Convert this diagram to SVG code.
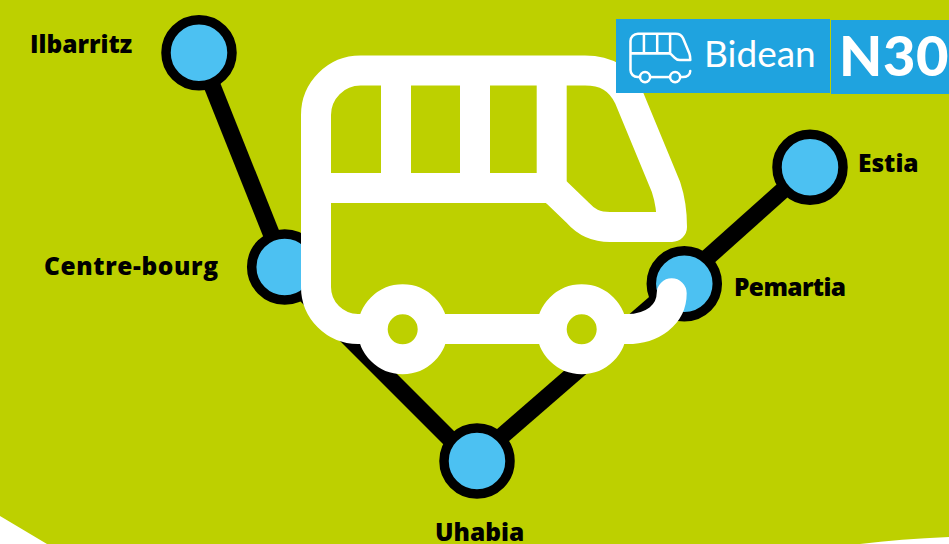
<svg xmlns="http://www.w3.org/2000/svg" width="949" height="544" viewBox="0 0 949 544">
<style>
.lbl{font-family:"Open Sans","Noto Sans",sans-serif;font-weight:800;font-size:24.5px;fill:#000}
.st{fill:#4cc1f2;stroke:#000;stroke-width:9.500}
.ln{stroke:#000;stroke-width:17;fill:none}
.bus{fill:none;stroke:#fff;stroke-linejoin:round}
</style>
<defs>
<g id="busShape">
<path stroke-linecap="round" d="M316 287V115A44.500 44.500 0 0 1 360.500 70.500H585C605 70.500 620 78 629 97.500L666 187Q672 205 672 227H610C595 227 586 222 578 213L556.700 192.500Q552 188 546 188H316M396 70.500V188M475 70.500V188M551.700 70.500V188L556.700 192.500M316 287A42 42 0 0 0 358 329H372"/>
<path d="M433 329H551.500"/>
<path stroke-linecap="round" d="M612 329H627C652 329 671.700 315 671.700 293.300"/>
<circle cx="402.700" cy="329.300" r="30"/>
<circle cx="581.700" cy="329.300" r="30"/>
</g>
</defs>
<rect width="949" height="544" fill="#bdd000"/>
<path d="M0 516L47 544H0ZM860 544Q900 539 949 537V544Z" fill="#fff"/>
<g id="connectors">
<line class="ln" x1="199" y1="52.700" x2="284.500" y2="267"/>
<line class="ln" x1="277" y1="266" x2="472" y2="461"/>
<line class="ln" x1="477" y1="457.700" x2="684" y2="278"/>
<line class="ln" x1="684" y1="278.600" x2="810" y2="166"/>
</g>
<g id="node-ilbarritz"><circle class="st" cx="199" cy="52.700" r="33"/><text class="lbl" x="30" y="53">Ilbarritz</text></g>
<g id="node-centre-bourg"><circle class="st" cx="284.700" cy="267" r="33"/><text class="lbl" x="44" y="275" textLength="174">Centre-bourg</text></g>
<g id="node-uhabia"><circle class="st" cx="477" cy="461" r="33"/><text class="lbl" x="435" y="540.500">Uhabia</text></g>
<g id="node-pemartia"><circle class="st" cx="684.300" cy="283.700" r="33"/><text class="lbl" x="734" y="296" textLength="112">Pemartia</text></g>
<g id="node-estia"><circle class="st" cx="810" cy="167.300" r="33"/><text class="lbl" x="858" y="172">Estia</text></g>
<g id="bus-large"><use href="#busShape" class="bus" stroke-width="30"/></g>
<g id="badge-bidean">
<rect x="616" y="19" width="214" height="74" fill="#1fa3df"/>
<use href="#busShape" class="bus" stroke-width="15" transform="translate(577.400 21.800) scale(.168)"/>
<text x="704" y="67" style="font-family:Lato,sans-serif;font-weight:400;font-size:37px;fill:#fff">Bidean</text>
</g>
<g id="badge-n30">
<rect x="831" y="20" width="118" height="74" fill="#1fa3df"/>
<text x="839" y="76" style="font-family:Lato,sans-serif;font-weight:900;font-size:56px;letter-spacing:.6px;fill:#fff">N30</text>
</g>
</svg>
